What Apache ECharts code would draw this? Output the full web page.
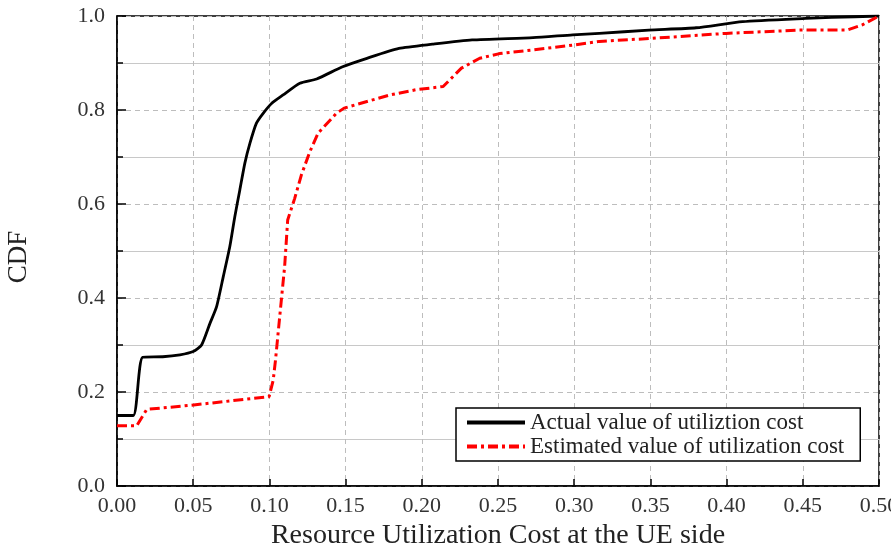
<!DOCTYPE html>
<html>
<head>
<meta charset="utf-8">
<script src="https://cdn.jsdelivr.net/npm/echarts@6/dist/echarts.min.js"></script>
<style>html,body{margin:0;padding:0;background:#fff;}#chart{width:891px;height:551px;}</style>
</head>
<body>
<div id="chart"></div>
<script>
// Actual value of utilization cost (black solid)
const actualX = [0, 0.0107, 0.0168, 0.03, 0.0413, 0.050, 0.0555, 0.061, 0.0653, 0.0697, 0.074, 0.0773, 0.0806, 0.0839, 0.0872, 0.0915, 0.0959, 0.1014, 0.109, 0.12, 0.131, 0.148, 0.164, 0.185, 0.207, 0.233, 0.273, 0.299, 0.3165, 0.349, 0.380, 0.4105, 0.452, 0.469, 0.5];
const actualY = [0.15, 0.15, 0.274, 0.275, 0.279, 0.286, 0.300, 0.346, 0.381, 0.445, 0.509, 0.573, 0.630, 0.687, 0.729, 0.772, 0.793, 0.814, 0.832, 0.857, 0.866, 0.892, 0.910, 0.931, 0.940, 0.949, 0.954, 0.960, 0.963, 0.970, 0.975, 0.988, 0.995, 0.997, 1.0];
// Estimated value of utilization cost (red dash-dot)
const estX = [0, 0.0129, 0.0195, 0.049, 0.0998, 0.1025, 0.104, 0.107, 0.110, 0.112, 0.1166, 0.121, 0.1265, 0.132, 0.144, 0.149, 0.179, 0.196, 0.214, 0.226, 0.238, 0.251, 0.273, 0.299, 0.3165, 0.349, 0.3996, 0.4475, 0.479, 0.489, 0.5];
const estY = [0.128, 0.128, 0.163, 0.172, 0.19, 0.225, 0.268, 0.368, 0.467, 0.566, 0.612, 0.662, 0.711, 0.751, 0.793, 0.804, 0.832, 0.843, 0.850, 0.889, 0.910, 0.920, 0.928, 0.938, 0.946, 0.952, 0.963, 0.970, 0.970, 0.981, 1.0];
const seriesNames = ['Actual value of utiliztion cost', 'Estimated value of utilization cost'];
const xTitle = 'Resource Utilization Cost at the UE side';
const yTitle = 'CDF';

const FONT = '"Liberation Serif", "Times New Roman", serif';
const zip = (xs, ys) => xs.map((x, i) => [x, ys[i]]);

const chart = echarts.init(document.getElementById('chart'), null, {renderer: 'canvas'});
chart.setOption({
  backgroundColor: '#fff',
  animation: false,
  grid: {left: 117, right: 12, top: 16, bottom: 65, outerBoundsMode: 'none', containLabel: false, show: true, borderColor: '#000', borderWidth: 1.5, backgroundColor: 'transparent'},
  legend: {
    data: seriesNames,
    orient: 'vertical',
    left: 456, top: 408,
    padding: [3, 16, 3, 9],
    itemGap: 1,
    itemWidth: 58,
    itemHeight: 21,
    backgroundColor: '#fff',
    borderColor: '#000',
    borderWidth: 1.5,
    borderRadius: 0,
    itemStyle: {opacity: 0},
    lineStyle: {width: 4},
    textStyle: {fontFamily: FONT, fontSize: 23, lineHeight: 21, color: '#222'}
  },
  xAxis: {
    type: 'value', min: 0, max: 0.5, interval: 0.05,
    name: xTitle, nameLocation: 'middle', nameGap: 30,
    nameTextStyle: {fontFamily: FONT, fontSize: 28, color: '#222'},
    axisLine: {show: true, lineStyle: {color: '#000', width: 1.5}},
    axisTick: {show: true, inside: true, length: 7, lineStyle: {color: '#000', width: 1.5}},
    axisLabel: {fontFamily: FONT, fontSize: 22, color: '#333', margin: 9, formatter: v => v.toFixed(2)},
    splitLine: {show: true, lineStyle: {color: '#bdbdbd', type: [5, 4], width: 1}}
  },
  yAxis: {
    type: 'value', min: 0, max: 1, interval: 0.2,
    name: yTitle, nameLocation: 'middle', nameGap: 85,
    nameTextStyle: {fontFamily: FONT, fontSize: 27, color: '#222', padding: [0, 0, 0, -12]},
    axisLine: {show: true, lineStyle: {color: '#000', width: 1.5}},
    axisTick: {show: true, inside: true, length: 9, lineStyle: {color: '#000', width: 1.5}},
    minorTick: {show: true, splitNumber: 2, length: 6, lineStyle: {color: '#000', width: 1.5}},
    axisLabel: {fontFamily: FONT, fontSize: 22, color: '#333', margin: 12, formatter: v => v.toFixed(1)},
    splitLine: {show: true, lineStyle: {color: '#bdbdbd', type: [5, 4], width: 1}},
    minorSplitLine: {show: true, lineStyle: {color: '#c8c8c8', width: 1}}
  },
  series: [
    {
      name: seriesNames[0], type: 'line', data: zip(actualX, actualY),
      symbol: 'none', smooth: 0.2,
      lineStyle: {color: '#000', width: 2.8, join: 'round'}, itemStyle: {color: '#000'}, z: 3
    },
    {
      name: seriesNames[1], type: 'line', data: zip(estX, estY),
      symbol: 'none', smooth: false,
      lineStyle: {color: '#ff0000', width: 3, type: [10, 4, 3, 4]}, itemStyle: {color: '#ff0000'}, z: 4
    }
  ]
});
</script>
</body>
</html>
